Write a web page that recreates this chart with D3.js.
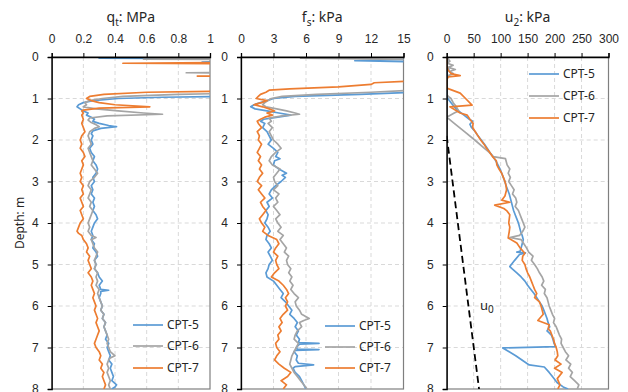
<!DOCTYPE html>
<html>
<head>
<meta charset="utf-8">
<script src="https://cdn.jsdelivr.net/npm/d3@7"></script>
<style>
  body { margin: 0; background: #fff; }
  svg { display: block; font-family: "Noto Sans", sans-serif; }
  .tick text { font-size: 12px; fill: #262626; }
</style>
</head>
<body>
<svg id="chart" width="628" height="392"></svg>
<script>
// depth ticks (m) and x ticks for each panel
const depthTicks = [0, 1, 2, 3, 4, 5, 6, 7, 8];
const qtTicks = [0, 0.2, 0.4, 0.6, 0.8, 1];
const fsTicks = [0, 3, 6, 9, 12, 15];
const u2Ticks = [0, 50, 100, 150, 200, 250, 300];
const seriesNames = ["CPT-5", "CPT-6", "CPT-7"];
const seriesColors = ["#5B9BD5", "#A5A5A5", "#ED7D31"];

// q_t (MPa) as [depth, value]
const qtCPT5 = [[0,1.5],[0.03,0.30],[0.05,1.5],[0.1,1.5],[0.12,0.95],[0.14,1.5],[0.93,1.5],[0.97,0.7],[1.0,0.42],[1.05,0.26],[1.1,0.2],[1.15,0.17],[1.2,0.16],[1.25,0.18],[1.3,0.2],[1.35,0.23],[1.4,0.22],[1.45,0.25],[1.5,0.27],[1.55,0.26],[1.6,0.30],[1.65,0.36],[1.68,0.41],[1.72,0.31],[1.78,0.26],[1.85,0.25],[1.9,0.26],[2.0,0.25],[2.1,0.26],[2.2,0.24],[2.3,0.25],[2.4,0.27],[2.5,0.26],[2.6,0.28],[2.7,0.29],[2.8,0.28],[2.9,0.26],[3.0,0.27],[3.1,0.25],[3.2,0.26],[3.3,0.25],[3.4,0.27],[3.5,0.26],[3.6,0.27],[3.7,0.26],[3.8,0.28],[3.9,0.29],[4.0,0.27],[4.1,0.26],[4.2,0.25],[4.3,0.26],[4.4,0.25],[4.5,0.27],[4.6,0.26],[4.7,0.28],[4.8,0.29],[4.9,0.27],[5.0,0.28],[5.1,0.27],[5.2,0.29],[5.3,0.30],[5.4,0.32],[5.5,0.30],[5.6,0.31],[5.62,0.36],[5.65,0.31],[5.7,0.31],[5.8,0.30],[5.9,0.31],[6.0,0.32],[6.1,0.31],[6.2,0.33],[6.3,0.32],[6.4,0.34],[6.5,0.33],[6.6,0.34],[6.7,0.35],[6.8,0.34],[6.9,0.36],[7.0,0.35],[7.1,0.36],[7.2,0.37],[7.3,0.36],[7.4,0.38],[7.5,0.37],[7.6,0.38],[7.7,0.39],[7.8,0.38],[7.9,0.41],[7.95,0.40],[8.0,0.38]];
const qtCPT6 = [[0,1.5],[0.05,0.58],[0.07,1.5],[0.36,1.5],[0.38,0.85],[0.4,1.5],[0.85,1.5],[0.9,0.8],[0.95,0.45],[1.0,0.32],[1.05,0.24],[1.1,0.21],[1.15,0.22],[1.2,0.2],[1.25,0.28],[1.3,0.42],[1.35,0.58],[1.38,0.70],[1.42,0.35],[1.47,0.24],[1.52,0.23],[1.58,0.25],[1.63,0.28],[1.68,0.30],[1.72,0.27],[1.8,0.24],[1.9,0.23],[2.0,0.24],[2.1,0.25],[2.2,0.23],[2.3,0.24],[2.4,0.25],[2.5,0.26],[2.6,0.25],[2.7,0.27],[2.8,0.29],[2.9,0.27],[3.0,0.24],[3.1,0.23],[3.2,0.25],[3.3,0.24],[3.4,0.23],[3.5,0.25],[3.6,0.24],[3.7,0.26],[3.8,0.25],[3.9,0.24],[4.0,0.23],[4.1,0.24],[4.2,0.23],[4.3,0.25],[4.35,0.28],[4.4,0.25],[4.5,0.26],[4.6,0.27],[4.7,0.29],[4.8,0.28],[4.9,0.27],[5.0,0.28],[5.1,0.27],[5.2,0.29],[5.3,0.28],[5.4,0.29],[5.5,0.28],[5.6,0.30],[5.7,0.29],[5.8,0.30],[5.9,0.31],[6.0,0.32],[6.1,0.31],[6.2,0.33],[6.3,0.32],[6.4,0.34],[6.5,0.33],[6.6,0.34],[6.7,0.35],[6.8,0.36],[6.9,0.35],[7.0,0.36],[7.1,0.37],[7.2,0.40],[7.25,0.37],[7.3,0.36],[7.4,0.35],[7.5,0.36],[7.6,0.35],[7.7,0.36],[7.8,0.37],[7.9,0.36],[8.0,0.37]];
const qtCPT7 = [[0,1.5],[0.12,1.5],[0.15,0.45],[0.17,1.5],[0.44,1.5],[0.46,0.92],[0.48,1.5],[0.8,1.5],[0.85,0.6],[0.9,0.33],[0.95,0.24],[1.0,0.22],[1.05,0.25],[1.1,0.3],[1.15,0.4],[1.2,0.62],[1.23,0.3],[1.28,0.2],[1.3,0.19],[1.35,0.2],[1.4,0.19],[1.5,0.2],[1.6,0.19],[1.7,0.2],[1.8,0.21],[1.9,0.19],[2.0,0.18],[2.1,0.19],[2.2,0.18],[2.3,0.2],[2.4,0.21],[2.5,0.19],[2.6,0.2],[2.7,0.19],[2.8,0.18],[2.9,0.19],[3.0,0.18],[3.1,0.2],[3.2,0.19],[3.3,0.2],[3.4,0.18],[3.5,0.19],[3.6,0.2],[3.7,0.18],[3.8,0.19],[3.9,0.2],[4.0,0.18],[4.1,0.17],[4.2,0.16],[4.25,0.17],[4.3,0.19],[4.4,0.2],[4.5,0.22],[4.6,0.23],[4.7,0.22],[4.8,0.24],[4.9,0.23],[5.0,0.24],[5.1,0.25],[5.2,0.23],[5.3,0.25],[5.4,0.26],[5.5,0.25],[5.6,0.26],[5.7,0.27],[5.8,0.26],[5.9,0.27],[6.0,0.28],[6.1,0.27],[6.2,0.28],[6.3,0.29],[6.4,0.28],[6.5,0.29],[6.6,0.30],[6.7,0.29],[6.8,0.28],[6.9,0.27],[7.0,0.28],[7.1,0.30],[7.2,0.31],[7.3,0.30],[7.4,0.32],[7.5,0.31],[7.6,0.33],[7.7,0.32],[7.8,0.33],[7.9,0.34],[8.0,0.33]];

// f_s (kPa)
const fsCPT5 = [[0,16],[0.06,16],[0.09,10.5],[0.12,16],[0.85,16],[0.9,11],[0.95,5],[1.0,3.0],[1.05,2.4],[1.1,1.8],[1.15,1.2],[1.2,0.9],[1.25,1.3],[1.3,2.4],[1.35,3.5],[1.4,4.6],[1.45,3.4],[1.5,2.1],[1.55,1.8],[1.6,2.2],[1.7,2.0],[1.8,2.4],[1.9,2.6],[2.0,2.8],[2.1,2.5],[2.2,3.0],[2.3,3.4],[2.4,3.2],[2.45,3.6],[2.5,3.1],[2.6,3.0],[2.7,3.5],[2.8,4.2],[2.85,3.8],[2.9,4.1],[3.0,3.7],[3.1,3.2],[3.2,2.8],[3.3,2.6],[3.4,2.9],[3.5,2.4],[3.6,2.6],[3.7,2.3],[3.8,2.5],[3.9,2.4],[4.0,2.2],[4.1,2.5],[4.2,2.7],[4.3,2.4],[4.4,2.3],[4.5,2.6],[4.6,2.8],[4.7,2.5],[4.8,2.7],[4.9,2.9],[5.0,2.6],[5.1,2.5],[5.2,2.3],[5.3,2.4],[5.4,3.0],[5.5,3.3],[5.6,3.6],[5.7,3.9],[5.8,3.7],[5.9,4.1],[6.0,4.4],[6.1,4.7],[6.2,4.5],[6.3,4.9],[6.4,5.2],[6.5,5.0],[6.6,5.3],[6.7,5.1],[6.8,5.4],[6.88,5.3],[6.9,7.2],[6.92,5.4],[7.0,5.1],[7.04,5.2],[7.05,7.2],[7.07,5.0],[7.1,4.9],[7.2,5.2],[7.3,5.1],[7.38,5.3],[7.42,6.7],[7.46,5.0],[7.5,4.8],[7.6,5.0],[7.7,5.4],[7.8,5.6],[7.9,5.8],[8.0,6.0]];
const fsCPT6 = [[0,16],[0.03,5.5],[0.06,16],[0.8,16],[0.85,12],[0.9,7],[0.95,3.8],[1.0,2.8],[1.05,2.5],[1.1,2.2],[1.15,2.0],[1.2,2.3],[1.25,3.3],[1.3,4.2],[1.35,5.0],[1.38,5.4],[1.42,3.8],[1.47,2.6],[1.55,2.8],[1.6,2.5],[1.7,2.9],[1.8,2.6],[1.9,2.8],[2.0,3.0],[2.1,3.4],[2.2,3.7],[2.3,3.2],[2.4,2.8],[2.5,2.6],[2.6,2.9],[2.7,3.6],[2.8,3.3],[2.9,3.0],[3.0,3.1],[3.1,3.4],[3.2,3.0],[3.3,3.5],[3.4,3.2],[3.5,3.4],[3.6,3.0],[3.7,3.3],[3.8,3.6],[3.9,3.2],[4.0,3.4],[4.1,3.7],[4.2,3.4],[4.3,3.9],[4.4,3.6],[4.5,3.9],[4.6,4.2],[4.7,4.0],[4.8,4.4],[4.9,4.2],[5.0,4.3],[5.1,4.6],[5.2,4.4],[5.3,4.7],[5.4,4.5],[5.5,4.8],[5.6,4.6],[5.7,4.9],[5.8,5.3],[5.9,5.0],[6.0,5.1],[6.1,5.4],[6.2,5.6],[6.3,6.3],[6.35,5.8],[6.4,5.4],[6.5,5.6],[6.6,5.2],[6.7,5.0],[6.8,4.9],[6.9,5.3],[7.0,5.1],[7.1,4.9],[7.2,4.7],[7.3,4.6],[7.4,4.5],[7.5,4.7],[7.6,4.9],[7.7,5.2],[7.8,5.5],[7.9,5.8],[8.0,6.1]];
const fsCPT7 = [[0,16],[0.55,16],[0.58,15.5],[0.62,12.3],[0.66,12.0],[0.72,9],[0.77,4.5],[0.8,2.6],[0.85,2.3],[0.9,1.8],[0.95,1.6],[1.0,1.4],[1.05,2.4],[1.1,1.9],[1.15,1.2],[1.2,2.0],[1.25,2.6],[1.3,3.1],[1.35,2.4],[1.4,2.9],[1.45,2.2],[1.5,1.8],[1.55,1.5],[1.6,1.6],[1.7,1.9],[1.8,1.5],[1.9,1.7],[2.0,1.6],[2.1,1.9],[2.2,1.7],[2.3,1.5],[2.4,1.8],[2.5,1.6],[2.6,1.9],[2.7,1.7],[2.8,2.0],[2.9,1.7],[3.0,1.5],[3.1,1.9],[3.2,1.6],[3.3,1.9],[3.4,2.2],[3.5,1.8],[3.6,2.0],[3.7,2.3],[3.8,2.0],[3.9,1.7],[4.0,1.9],[4.1,2.2],[4.2,2.0],[4.3,2.5],[4.4,3.3],[4.5,3.5],[4.6,3.2],[4.7,3.0],[4.8,3.4],[4.9,3.2],[5.0,3.3],[5.1,3.5],[5.2,3.1],[5.3,2.8],[5.4,3.5],[5.5,3.9],[5.6,4.2],[5.7,4.4],[5.8,4.1],[5.9,4.3],[6.0,4.1],[6.1,4.3],[6.2,3.9],[6.3,3.6],[6.4,3.8],[6.5,3.5],[6.6,3.7],[6.7,3.4],[6.8,3.5],[6.9,3.2],[7.0,3.3],[7.1,3.6],[7.2,3.3],[7.3,3.1],[7.4,3.5],[7.5,4.0],[7.6,4.6],[7.7,4.3],[7.8,3.7],[7.9,4.2],[8.0,3.9]];

// u_2 (kPa)
const u2CPT5 = [[0,0],[0.1,2],[0.2,0],[0.3,4],[0.35,1],[0.5,0],[0.9,0],[1.0,2],[1.1,8],[1.2,14],[1.3,22],[1.4,32],[1.5,42],[1.55,48],[1.62,43],[1.7,46],[1.8,53],[1.9,58],[2.0,64],[2.1,70],[2.2,75],[2.3,80],[2.4,86],[2.5,91],[2.6,95],[2.7,99],[2.8,102],[2.9,105],[3.0,108],[3.1,110],[3.2,113],[3.3,116],[3.4,118],[3.5,120],[3.6,122],[3.7,124],[3.8,127],[3.9,130],[4.0,133],[4.1,135],[4.2,137],[4.3,140],[4.4,142],[4.5,140],[4.6,138],[4.68,136],[4.7,130],[4.72,146],[4.76,135],[4.9,126],[5.05,117],[5.1,121],[5.2,130],[5.3,138],[5.4,145],[5.5,150],[5.6,156],[5.7,162],[5.8,167],[5.9,172],[6.0,177],[6.1,180],[6.2,183],[6.3,186],[6.4,188],[6.5,191],[6.6,186],[6.65,190],[6.7,194],[6.8,197],[6.9,199],[6.98,202],[7.01,104],[7.2,128],[7.42,153],[7.47,181],[7.6,190],[7.7,196],[7.85,205],[7.95,216],[8.0,225]];
const u2CPT6 = [[0,0],[0.1,6],[0.15,1],[0.2,12],[0.25,3],[0.3,16],[0.35,5],[0.4,12],[0.45,2],[0.5,0],[0.9,0],[0.95,3],[1.0,8],[1.1,12],[1.2,18],[1.3,22],[1.35,14],[1.45,0],[1.6,14],[1.8,33],[2.0,52],[2.2,70],[2.3,79],[2.4,86],[2.45,109],[2.6,112],[2.7,117],[2.8,114],[2.9,118],[3.0,115],[3.1,120],[3.2,125],[3.3,122],[3.4,128],[3.5,130],[3.6,127],[3.7,133],[3.8,136],[3.9,139],[4.0,142],[4.1,145],[4.2,141],[4.3,135],[4.35,117],[4.4,138],[4.5,143],[4.6,148],[4.7,152],[4.8,160],[4.9,157],[5.0,163],[5.1,168],[5.2,172],[5.3,177],[5.4,180],[5.5,176],[5.6,183],[5.7,181],[5.8,186],[5.9,188],[6.0,190],[6.1,193],[6.2,196],[6.3,200],[6.4,198],[6.5,203],[6.6,206],[6.7,209],[6.8,213],[6.9,212],[7.0,216],[7.1,220],[7.2,226],[7.3,221],[7.4,230],[7.5,226],[7.6,233],[7.7,229],[7.8,237],[7.9,245],[8.0,242]];
const u2CPT7 = [[0,0],[0.2,0],[0.3,2],[0.4,8],[0.45,25],[0.48,3],[0.55,0],[0.75,0],[0.87,25],[1.0,35],[1.16,47],[1.2,6],[1.35,25],[1.4,38],[1.5,43],[1.6,49],[1.7,48],[1.8,53],[1.9,58],[2.0,63],[2.1,69],[2.2,74],[2.3,80],[2.4,85],[2.5,92],[2.6,93],[2.7,97],[2.8,102],[2.9,105],[3.0,108],[3.1,110],[3.2,111],[3.35,108],[3.45,102],[3.5,117],[3.57,89],[3.65,106],[3.7,111],[3.8,117],[3.9,116],[4.0,115],[4.1,117],[4.2,116],[4.36,114],[4.48,130],[4.6,136],[4.73,145],[4.8,141],[4.9,140],[5.0,145],[5.1,147],[5.2,150],[5.3,154],[5.4,157],[5.5,160],[5.6,163],[5.7,167],[5.8,163],[5.9,172],[6.0,175],[6.1,177],[6.2,179],[6.35,169],[6.45,190],[6.55,188],[6.6,192],[6.7,195],[6.8,198],[6.9,200],[7.0,203],[7.1,205],[7.2,206],[7.3,201],[7.4,212],[7.5,200],[7.6,214],[7.75,205],[7.9,210],[8.0,206]];
// hydrostatic u0
const u0Line = [[1.9,0],[8.0,60]];

const svg = d3.select("#chart");
const yTop = 57, yBottom = 389;
const y = d3.scaleLinear().domain([0, 8]).range([yTop, yBottom]);

const panels = [
  { x0: 51.7, x1: 210, domain: [0, 1], ticks: qtTicks,
    title: ["q", "t", ": MPa"], series: [qtCPT5, qtCPT6, qtCPT7],
    legend: { x: 133, y: [325, 346, 368] } },
  { x0: 241, x1: 403.5, domain: [0, 15], ticks: fsTicks,
    title: ["f", "s", ": kPa"], series: [fsCPT5, fsCPT6, fsCPT7],
    legend: { x: 325, y: [326, 347, 368] } },
  { x0: 446.7, x1: 608.5, domain: [0, 300], ticks: u2Ticks,
    title: ["u", "2", ": kPa"], series: [u2CPT5, u2CPT6, u2CPT7],
    legend: { x: 529, y: [74, 96, 118] } }
];

panels.forEach((p, i) => {
  const x = d3.scaleLinear().domain(p.domain).range([p.x0, p.x1]);
  const g = svg.append("g");

  g.append("clipPath").attr("id", "clip" + i)
    .append("rect").attr("x", p.x0).attr("y", yTop)
    .attr("width", p.x1 - p.x0).attr("height", yBottom - yTop);

  // gridlines
  g.append("g").selectAll("line").data(p.ticks.slice(1, -1)).join("line")
    .attr("x1", d => x(d)).attr("x2", d => x(d))
    .attr("y1", yTop).attr("y2", yBottom)
    .attr("stroke", "#d9d9d9").attr("stroke-dasharray", "4,3");
  g.append("g").selectAll("line").data(depthTicks.slice(1, -1)).join("line")
    .attr("x1", p.x0).attr("x2", p.x1)
    .attr("y1", d => y(d)).attr("y2", d => y(d))
    .attr("stroke", "#d9d9d9").attr("stroke-dasharray", "4,3");

  // frame
  g.append("rect").attr("x", p.x0).attr("y", yTop)
    .attr("width", p.x1 - p.x0).attr("height", yBottom - yTop)
    .attr("fill", "none").attr("stroke", "#7f7f7f").attr("stroke-width", 1.2);

  const line = d3.line().x(d => x(d[1])).y(d => y(d[0]));
  const lines = g.append("g").attr("clip-path", `url(#clip${i})`);

  if (i === 2) {
    lines.append("path").datum(u0Line).attr("d", line)
      .attr("fill", "none").attr("stroke", "#000")
      .attr("stroke-width", 1.8).attr("stroke-dasharray", "7,4");
  }
  p.series.forEach((s, k) => {
    lines.append("path").datum(s).attr("d", line)
      .attr("fill", "none").attr("stroke", seriesColors[k])
      .attr("stroke-width", 1.7).attr("stroke-linejoin", "round");
  });

  // axes
  const ax = g.append("g").attr("transform", `translate(0,${yTop})`)
    .call(d3.axisTop(x).tickValues(p.ticks).tickFormat(d => String(d)).tickSize(4).tickPadding(10));
  ax.select(".domain").attr("stroke", "#000").attr("stroke-width", 1.3);
  const ay = g.append("g").attr("transform", `translate(${p.x0},0)`)
    .call(d3.axisLeft(y).tickValues(depthTicks).tickSize(4).tickPadding(9));
  ay.select(".domain").attr("stroke", "#000").attr("stroke-width", 1.3);
  g.selectAll(".tick line").attr("stroke", "#000");

  // title with subscript
  const t = g.append("text").attr("x", (p.x0 + p.x1) / 2).attr("y", 22)
    .attr("text-anchor", "middle").attr("font-size", 14).attr("fill", "#262626");
  t.append("tspan").text(p.title[0]);
  t.append("tspan").attr("dy", 4).attr("font-size", 10).text(p.title[1]);
  t.append("tspan").attr("dy", -4).text(p.title[2]);

  // legend
  seriesNames.forEach((name, k) => {
    const ly = p.legend.y[k];
    g.append("line").attr("x1", p.legend.x).attr("x2", p.legend.x + 30)
      .attr("y1", ly).attr("y2", ly)
      .attr("stroke", seriesColors[k]).attr("stroke-width", 1.7);
    g.append("text").attr("x", p.legend.x + 34).attr("y", ly).attr("dy", "0.35em")
      .attr("font-size", 12).attr("fill", "#262626").text(name);
  });
});

// u0 label
const u0t = svg.append("text").attr("x", 480).attr("y", 310)
  .attr("font-size", 13).attr("fill", "#262626");
u0t.append("tspan").text("u");
u0t.append("tspan").attr("dy", 3).attr("font-size", 10).text("0");

// depth axis title
svg.append("text").attr("transform", `translate(24,${(yTop + yBottom) / 2}) rotate(-90)`)
  .attr("text-anchor", "middle").attr("font-size", 12).attr("fill", "#262626")
  .text("Depth: m");
</script>
</body>
</html>
